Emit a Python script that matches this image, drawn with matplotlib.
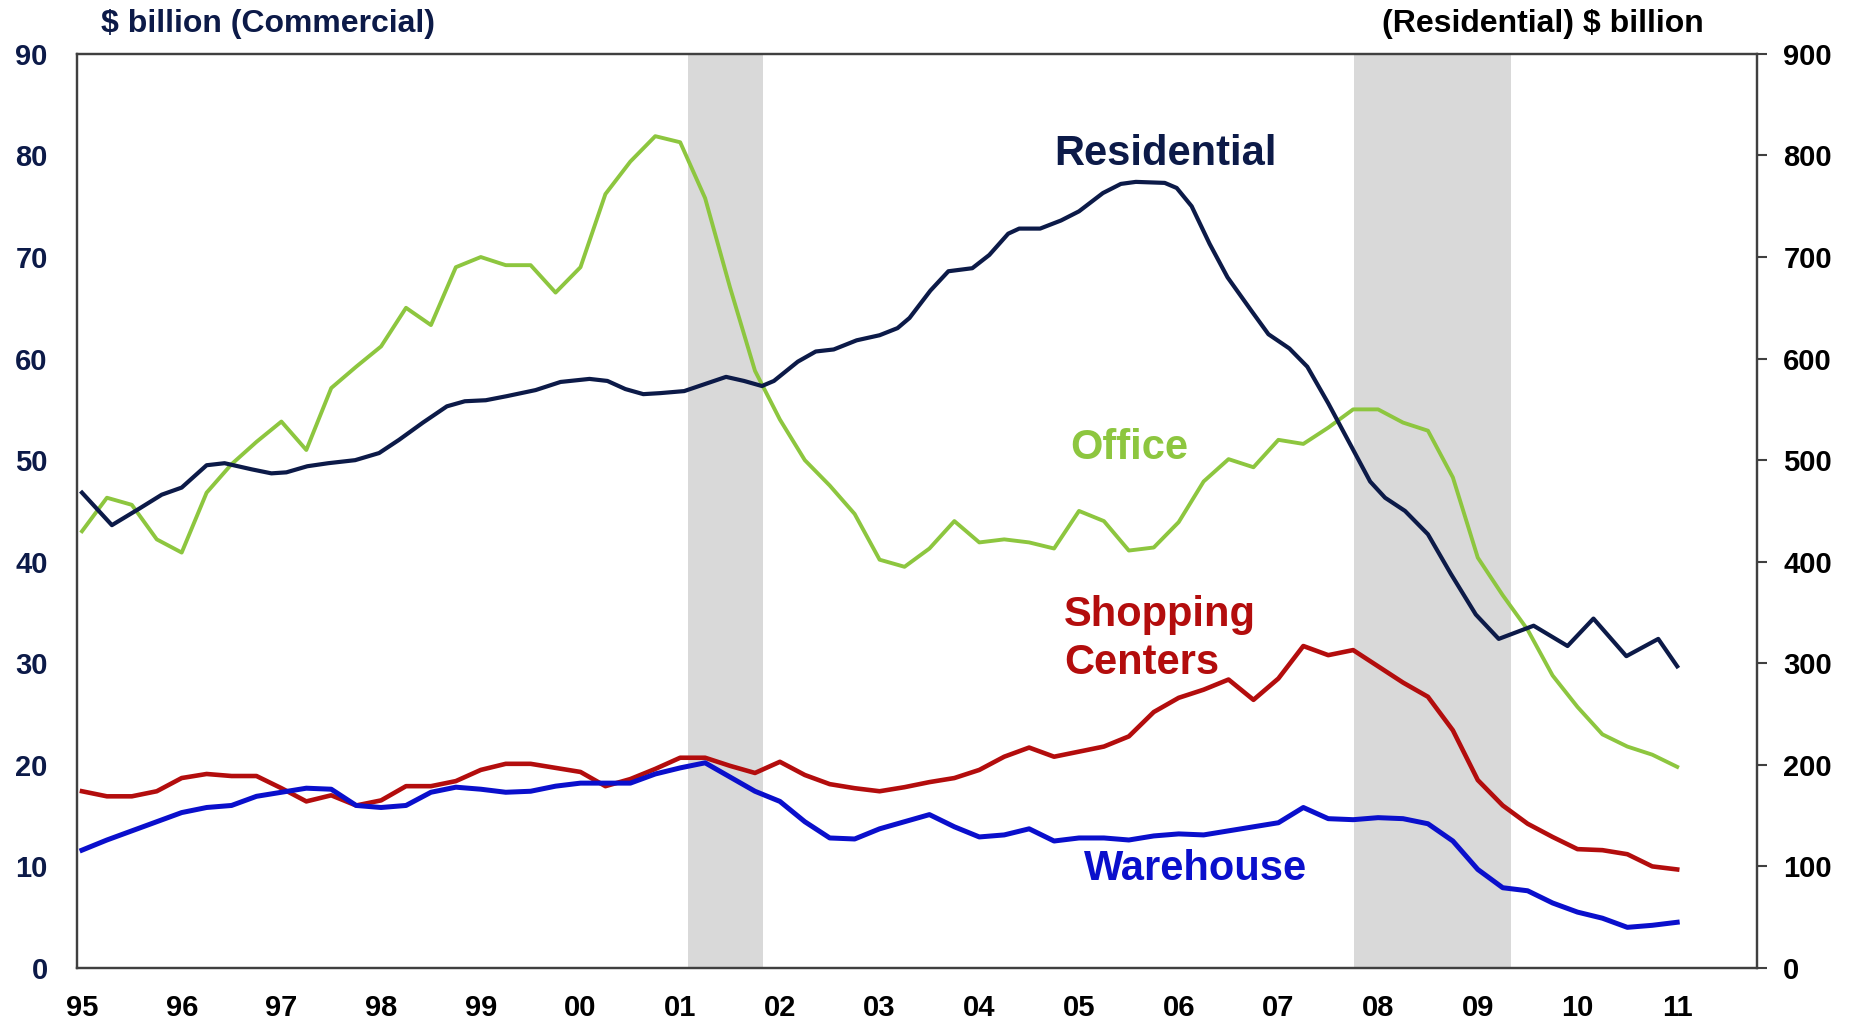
import numpy as np
import matplotlib
matplotlib.use("Agg")
import matplotlib.pyplot as plt

plt.rcParams['font.family'] = ['Liberation Sans', 'DejaVu Sans']

# quarterly dates for the commercial series, 1995Q1 .. 2011Q1
quarters = np.arange(1995.0, 2011.01, 0.25)

office = [43.0, 46.3, 45.6, 42.2,
          40.9, 46.8, 49.6, 51.8,
          53.8, 51.0, 57.1, 59.2,
          61.2, 65.0, 63.3, 69.0,
          70.0, 69.2, 69.2, 66.5,
          69.0, 76.2, 79.4, 81.9,
          81.3, 75.8, 67.0, 58.8,
          54.0, 50.0, 47.5, 44.7,
          40.2, 39.5, 41.3, 44.0,
          41.9, 42.2, 41.9, 41.3,
          45.0, 44.0, 41.1, 41.4,
          43.9, 47.9, 50.1, 49.3,
          52.0, 51.6, 53.2, 55.0,
          55.0, 53.7, 52.9, 48.3,
          40.4, 36.7, 33.3, 28.8,
          25.7, 23.0, 21.8, 21.0,
          19.8]

shopping = [17.4, 16.9, 16.9, 17.4,
            18.7, 19.1, 18.9, 18.9,
            17.7, 16.4, 17.0, 16.0,
            16.5, 17.9, 17.9, 18.4,
            19.5, 20.1, 20.1, 19.7,
            19.3, 17.9, 18.6, 19.6,
            20.7, 20.7, 19.9, 19.2,
            20.3, 19.0, 18.1, 17.7,
            17.4, 17.8, 18.3, 18.7,
            19.5, 20.8, 21.7, 20.8,
            21.3, 21.8, 22.8, 25.2,
            26.6, 27.4, 28.4, 26.4,
            28.5, 31.7, 30.8, 31.3,
            29.7, 28.1, 26.7, 23.4,
            18.5, 16.0, 14.2, 12.9,
            11.7, 11.6, 11.2, 10.0,
            9.7]

warehouse = [11.6, 12.6, 13.5, 14.4,
             15.3, 15.8, 16.0, 16.9,
             17.3, 17.7, 17.6, 16.0,
             15.8, 16.0, 17.3, 17.8,
             17.6, 17.3, 17.4, 17.9,
             18.2, 18.2, 18.2, 19.1,
             19.7, 20.2, 18.8, 17.4,
             16.4, 14.4, 12.8, 12.7,
             13.7, 14.4, 15.1, 13.9,
             12.9, 13.1, 13.7, 12.5,
             12.8, 12.8, 12.6, 13.0,
             13.2, 13.1, 13.5, 13.9,
             14.3, 15.8, 14.7, 14.6,
             14.8, 14.7, 14.2, 12.5,
             9.7, 7.9, 7.6, 6.4,
             5.5, 4.9, 4.0, 4.2,
             4.5]

# residential (right axis), read at irregular dates
res_dates = [1995.0, 1995.3, 1995.57, 1995.8, 1996.0, 1996.25, 1996.43, 1996.7,
             1996.9, 1997.05, 1997.26, 1997.47, 1997.74, 1997.98, 1998.18, 1998.42,
             1998.66, 1998.84, 1999.05, 1999.26, 1999.55, 1999.8, 2000.09, 2000.27,
             2000.45, 2000.63, 2000.8, 2001.04, 2001.25, 2001.46, 2001.64, 2001.82,
             2001.94, 2002.18, 2002.36, 2002.54, 2002.77, 2003.0, 2003.18, 2003.3,
             2003.51, 2003.69, 2003.93, 2004.1, 2004.29, 2004.4, 2004.61, 2004.82,
             2005.0, 2005.24, 2005.42, 2005.57, 2005.86, 2005.98, 2006.13, 2006.31,
             2006.49, 2006.73, 2006.9, 2007.11, 2007.29, 2007.5, 2007.74, 2007.92,
             2008.07, 2008.27, 2008.5, 2008.73, 2008.98, 2009.21, 2009.56, 2009.9,
             2010.16, 2010.49, 2010.81, 2011.0]
residential = [468, 436, 452, 466, 473, 495, 497, 491,
               487, 488, 494, 497, 500, 507, 520, 537,
               553, 558, 559, 563, 569, 577, 580, 578,
               570, 565, 566, 568, 575, 582, 578, 573,
               578, 597, 607, 609, 618, 623, 630, 640,
               667, 686, 689, 702, 723, 728, 728, 736,
               745, 763, 772, 774, 773, 768, 750, 713,
               680, 647, 624, 610, 592, 556, 512, 479,
               463, 450, 427, 388, 348, 324, 337, 317,
               344, 307, 324, 297]

recessions = [(2001.08, 2001.83), (2007.76, 2009.33)]
year_ticks = list(range(1995, 2012))
year_labels = ["%02d" % (y % 100) for y in year_ticks]

navy = "#0c1a48"
c_res = "#0c1a48"
c_off = "#8dc63f"
c_shop = "#b30d0d"
c_ware = "#0a0fcc"
spine_c = "#404040"

fig = plt.figure(figsize=(18.6, 10.23), dpi=100)
ax = fig.add_axes([0.0414, 0.0538, 0.9032, 0.8935])
ax2 = ax.twinx()

for a, b in recessions:
    ax.axvspan(a, b, color="#d9d9d9", lw=0, zorder=0)

ax.plot(quarters, office, color=c_off, lw=2.8, zorder=3)
ax.plot(quarters, shopping, color=c_shop, lw=3.3, zorder=3)
ax.plot(quarters, warehouse, color=c_ware, lw=3.6, zorder=3)
ax2.plot(res_dates, residential, color=c_res, lw=3.0, zorder=4)

ax.set_xlim(1994.95, 2011.80)
ax.set_ylim(0, 90)
ax2.set_ylim(0, 900)
ax.set_xticks(year_ticks)
ax.set_xticklabels(year_labels)
ax.set_yticks(range(0, 91, 10))
ax2.set_yticks(range(0, 901, 100))

ax.tick_params(axis="x", length=0, pad=19, labelsize=21, labelcolor="black")
ax.tick_params(axis="y", length=0, pad=21, labelsize=21, labelcolor=navy)
ax2.tick_params(axis="y", direction="out", length=7, width=1.5, color=spine_c,
                pad=12, labelsize=21, labelcolor="black")
for t in ax.get_yticklabels() + ax.get_xticklabels() + ax2.get_yticklabels():
    t.set_fontweight("bold")

for a in (ax, ax2):
    for s in a.spines.values():
        s.set_color(spine_c)
        s.set_linewidth(1.6)

fig.text(101 / 1860, 1 - 24 / 1023, "$ billion (Commercial)", color=navy,
         fontsize=23, fontweight="bold", ha="left", va="center")
fig.text(1704 / 1860, 1 - 24 / 1023, "(Residential) $ billion", color="black",
         fontsize=23, fontweight="bold", ha="right", va="center")

ax.text(2005.87, 80.1, "Residential", color=c_res, fontsize=30, fontweight="bold",
        ha="center", va="center")
ax.text(2005.50, 51.2, "Office", color=c_off, fontsize=30, fontweight="bold",
        ha="center", va="center")
ax.text(2004.85, 32.4, "Shopping\nCenters", color=c_shop, fontsize=30,
        fontweight="bold", ha="left", va="center", linespacing=1.25)
ax.text(2006.17, 9.75, "Warehouse", color=c_ware, fontsize=30, fontweight="bold",
        ha="center", va="center")

fig.savefig("out.png", dpi=100)
